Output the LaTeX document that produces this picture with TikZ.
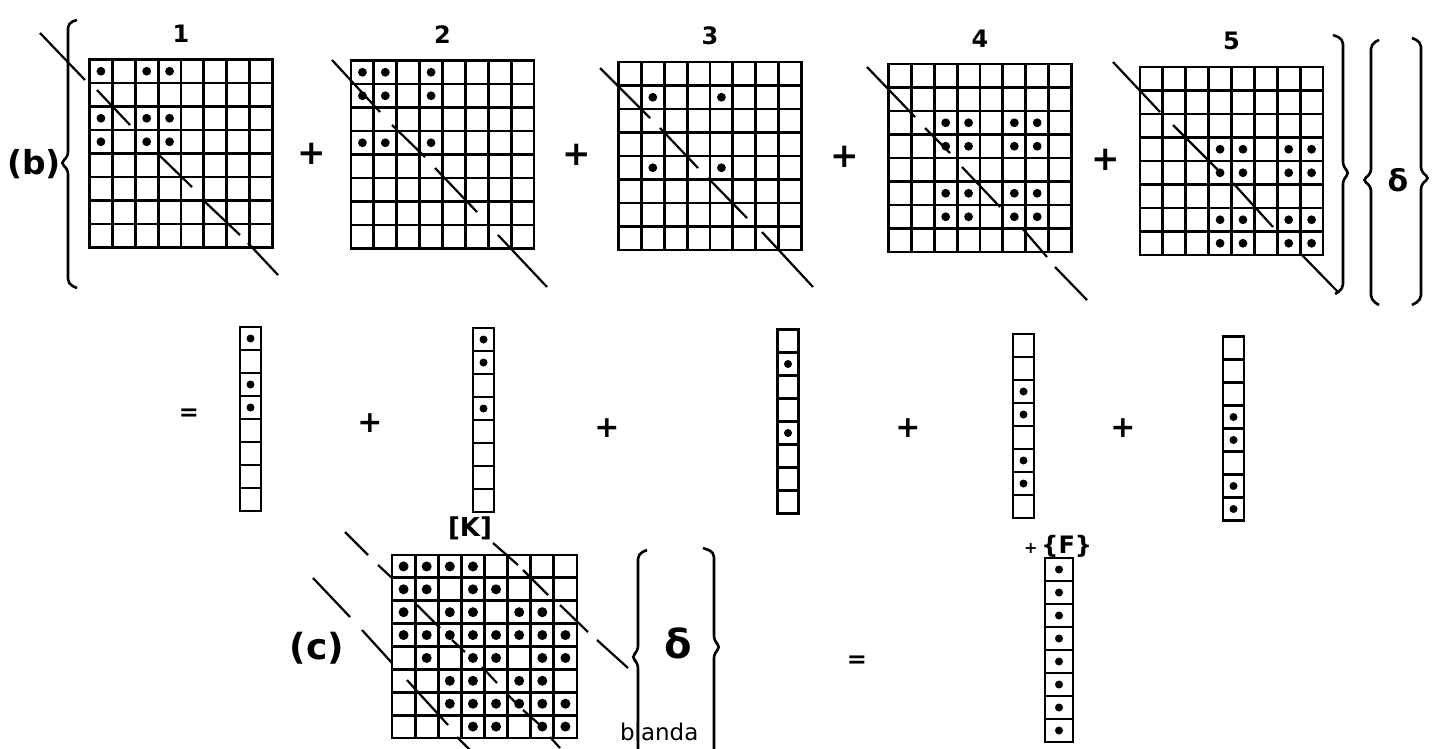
\documentclass[tikz,border=0pt]{standalone}
\usepackage{fontspec}
\setmainfont{DejaVu Sans}
\usetikzlibrary{calc,positioning}

\begin{document}
\begin{tikzpicture}[
x=1pt, y=-1pt,
every node/.style={inner sep=0pt, outer sep=0pt},
mat/.style={minimum width=183pt, minimum height=188pt},
matc/.style={minimum width=185pt, minimum height=183pt},
vec/.style={minimum width=21pt, minimum height=184pt},
num/.style={font=\bfseries\fontsize{24}{24}\selectfont},
op/.style={font=\bfseries\fontsize{34}{34}\selectfont},
eq/.style={font=\bfseries\fontsize{24}{24}\selectfont},
tag/.style={font=\bfseries\fontsize{33}{33}\selectfont},
cell/.style={line width=2.8pt, line cap=rect},
dot/.style={fill=black},
brace/.style={line width=2.6pt, rounded corners=5pt},
diag/.style={line width=2.2pt}
]
\useasboundingbox (0,0) rectangle (1441,748);

% (b) element matrices
\node[mat] (m1) at (181,153.5) {};
\node[mat] (m2) at (442.5,154.5) {};
\node[mat] (m3) at (710,156) {};
\node[mat] (m4) at (980,158) {};
\node[mat] (m5) at (1231.5,161) {};

\node[num, above=17pt of m1] (n1) {1};
\node[num, above=17pt of m2] (n2) {2};
\node[num, above=17pt of m3] (n3) {3};
\node[num, above=17pt of m4] (n4) {4};
\node[num, above=17pt of m5] (n5) {5};

\node[op] (p1) at ($(m1.east)!.5!(m2.west)$) {+};
\node[op] (p2) at ($(m2.east)!.5!(m3.west)$) {+};
\node[op] (p3) at ($(m3.east)!.5!(m4.west)$) {+};
\node[op] (p4) at ($(m4.east)!.5!(m5.west)$) {+};

\node[tag] (lb) at (34,164) {(b)};
\node[font=\bfseries\fontsize{30}{30}\selectfont] (d1) at (1398,180) {δ};

% (c) assembled matrix
\node[matc] (kc) at (484.5,646.5) {};
\node[font=\bfseries\fontsize{26}{26}\selectfont] (lk) at (470,528) {[K]};
\node[tag, font=\bfseries\fontsize{36}{36}\selectfont] (lc) at (317,648) {(c)};
\node[font=\bfseries\fontsize{40}{40}\selectfont] (d2) at (678,643) {δ};
\node[eq] (e2) at (857,662) {=};
\node[eq, font=\fontsize{23}{23}\selectfont, anchor=base west] (bl) at (620,740) {blanda};

% grids
\foreach \m in {m1,m2,m3,m4,m5,kc}
  \foreach \i in {0,...,8} {
    \draw[cell] ($(\m.north west)!\i/8!(\m.north east)$) -- ($(\m.south west)!\i/8!(\m.south east)$);
    \draw[cell] ($(\m.north west)!\i/8!(\m.south west)$) -- ($(\m.north east)!\i/8!(\m.south east)$);
  }

% filled entries
\foreach \m/\cells in {m1/{1/1,1/3,1/4,3/1,3/3,3/4,4/1,4/3,4/4},
    m2/{1/1,1/2,1/4,2/1,2/2,2/4,4/1,4/2,4/4},
    m3/{2/2,2/5,5/2,5/5},
    m4/{3/3,3/4,3/6,3/7,4/3,4/4,4/6,4/7,6/3,6/4,6/6,6/7,7/3,7/4,7/6,7/7},
    m5/{4/4,4/5,4/7,4/8,5/4,5/5,5/7,5/8,7/4,7/5,7/7,7/8,8/4,8/5,8/7,8/8}}
  \foreach \r/\c in \cells
    \fill[dot] ($(\m.north west)+({(\c-.5)*22.875},{(\r-.5)*23.5})$) circle[radius=4.4pt];

\foreach \r/\cols in {1/{1,2,3,4}, 2/{1,2,4,5}, 3/{1,3,4,6,7}, 4/{1,2,3,4,5,6,7,8},
    5/{2,4,5,7,8}, 6/{3,4,6,7}, 7/{3,4,5,6,7,8}, 8/{4,5,7,8}}
  \foreach \c in \cols
    \fill[dot] ($(kc.north west)+({(\c-.5)*23.125},{(\r-.5)*22.875})$) circle[radius=5pt];

% diagonals
\draw[diag] (40,33) -- (85,80) (97,90) -- (130,125) (157,153) -- (192,187) (203,200) -- (240,235) (248,243) -- (278,275);
\draw[diag] (332,60) -- (380,112) (392,125) -- (425,157) (435,168) -- (477,212) (498,235) -- (547,287);
\draw[diag] (600,68) -- (650,118) (660,128) -- (698,168) (708,178) -- (747,218) (762,232) -- (813,287);
\draw[diag] (867,67) -- (915,117) (925,128) -- (950,153) (962,167) -- (1000,207) (1022,228) -- (1047,257) (1055,267) -- (1087,300);
\draw[diag] (1113,62) -- (1160,112) (1173,125) -- (1218,170) (1233,183) -- (1273,227) (1300,253) -- (1338,292);
\draw[diag] (493,543) -- (518,565) (523,570) -- (548,595) (560,605) -- (588,632) (597,640) -- (628,668);
\draw[diag] (345,532) -- (368,555) (378,565) -- (392,578) (417,605) -- (440,628) (452,640) -- (465,652)
  (482,667) -- (497,683) (505,692) -- (515,702) (523,710) -- (540,725) (550,737) -- (560,748);
\draw[diag] (313,578) -- (350,617) (362,630) -- (392,663) (407,680) -- (448,725) (457,737) -- (470,750);

% braces
\draw[brace] (77,20) -- (68,23) -- (68,157) -- (60,163) -- (68,169) -- (68,284) -- (77,288);
\draw[brace] (1333,35) -- (1343,39) -- (1343,167) -- (1350,173) -- (1343,179) -- (1343,289) -- (1335,294);
\draw[brace] (1379,40) -- (1371,44) -- (1371,174) -- (1362,180) -- (1371,186) -- (1371,300) -- (1379,305);
\draw[brace] (1412,38) -- (1421,42) -- (1421,172) -- (1430,178) -- (1421,184) -- (1421,300) -- (1412,305);
\draw[brace] (647,550) -- (638,554) -- (638,651) -- (631,657) -- (638,663) -- (638,760);
\draw[brace] (703,548) -- (714,552) -- (714,641) -- (721,647) -- (714,653) -- (714,760);

% nodal vectors
\node[eq] (e1) at (189,415) {=};
\node[vec] (v1) at (250.5,419) {};
\node[vec] (v2) at (483.5,420) {};
\node[vec] (v3) at (788,421.5) {};
\node[vec] (v4) at (1023.5,426) {};
\node[vec] (v5) at (1233.5,428.5) {};
\node[vec, minimum width=28pt] (f) at (1059,650) {};
\node[op, font=\bfseries\fontsize{30}{30}\selectfont] (q1) at (370,423) {+};
\node[op, font=\bfseries\fontsize{30}{30}\selectfont] (q2) at (607,428) {+};
\node[op, font=\bfseries\fontsize{30}{30}\selectfont] (q3) at (908,428) {+};
\node[op, font=\bfseries\fontsize{30}{30}\selectfont] (q4) at (1123,428) {+};
\node[eq] (lf) at (1058,546) {{\fontsize{16}{16}\selectfont +}\,\{F\}};

\foreach \v in {v1,v2,v3,v4,v5,f} {
  \draw[cell] (\v.north west) rectangle (\v.south east);
  \foreach \i in {1,...,7}
    \draw[cell] ($(\v.north west)!\i/8!(\v.south west)$) -- ($(\v.north east)!\i/8!(\v.south east)$);
}
\foreach \v/\cells in {v1/{1,3,4}, v2/{1,2,4}, v3/{2,5}, v4/{3,4,6,7}, v5/{4,5,7,8}, f/{1,2,3,4,5,6,7,8}}
  \foreach \r in \cells
    \fill[dot] ($(\v.north)+(0,{(\r-.5)*23})$) circle[radius=4pt];

\end{tikzpicture}
\end{document}
